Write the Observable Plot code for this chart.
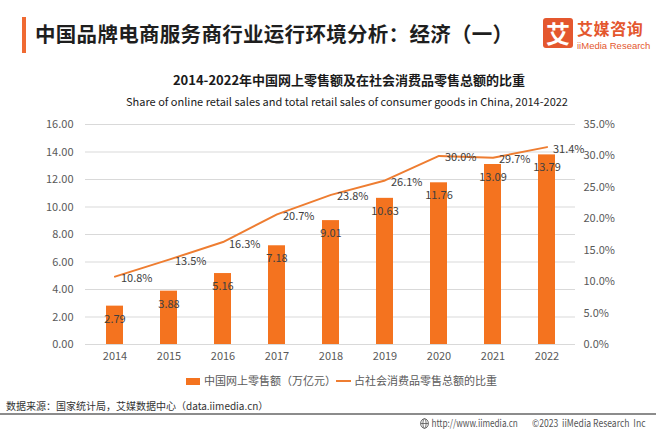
<!DOCTYPE html>
<html>
<head>
<meta charset="utf-8">
<script src="https://cdn.jsdelivr.net/npm/d3@7"></script>
<script src="https://cdn.jsdelivr.net/npm/@observablehq/plot@0.6"></script>
<style>
  html, body { margin: 0; padding: 0; background: #fff; }
  body { width: 660px; height: 429px; position: relative; overflow: hidden; font-family: "Noto Sans CJK SC", "Noto Sans", sans-serif; }
  .abs { position: absolute; white-space: nowrap; }
  #bar { left: 22px; top: 17px; width: 4px; height: 36px; background: #f06a32; }
  #title { left: 35px; top: 20px; font-size: 20.5px; font-weight: 700; color: #1e1e1e; line-height: 26px; letter-spacing: 0.3px; }
  #logoSq { left: 543px; top: 18px; width: 30px; height: 30px; background: #e4572e; border-radius: 3px; color: #fff; font-size: 24px; font-weight: 700; line-height: 30px; text-align: center; }
  #logoCn { left: 577px; top: 20px; font-size: 16px; font-weight: 700; color: #e4572e; line-height: 16px; height: 16px; letter-spacing: 0.6px; }
  #logoEn { left: 577px; top: 41px; font-family: "Liberation Sans Narrow", "Liberation Sans", sans-serif; font-size: 9.5px; color: #e4572e; line-height: 9px; height: 9px; }
  #ctitle { left: 0; width: 698px; top: 71px; text-align: center; font-size: 13px; font-weight: 700; color: #1a1a1a; line-height: 18px; }
  #csub { left: 0; width: 694px; top: 92px; text-align: center; font-size: 11px; color: #1a1a1a; line-height: 18px; }
  #plot { left: 0; top: 115px; }
  .leg { top: 373px; font-size: 11px; color: #595959; line-height: 14px; }
  #src { left: 6px; top: 399px; font-size: 10px; color: #333; line-height: 14px; }
  #rule { left: 0; top: 413px; width: 656px; height: 2px; background: #8c8c8c; }
  #url { left: 420px; top: 416px; font-size: 10px; color: #555; line-height: 13px; transform: scaleX(0.82); transform-origin: left top; }
  #copy { left: 532px; top: 416px; font-size: 10px; color: #555; line-height: 13px; transform: scaleX(0.86); transform-origin: left top; }
</style>
</head>
<body>
<div id="bar" class="abs"></div>
<div id="title" class="abs">中国品牌电商服务商行业运行环境分析：经济（一）</div>
<div id="logoSq" class="abs">艾</div>
<div id="logoCn" class="abs">艾媒咨询</div>
<div id="logoEn" class="abs">iiMedia Research</div>
<div id="ctitle" class="abs">2014-2022年中国网上零售额及在社会消费品零售总额的比重</div>
<div id="csub" class="abs">Share of online retail sales and total retail sales of consumer goods in China, 2014-2022</div>
<div id="plot" class="abs"></div>
<div class="abs leg" style="left:186px;"><span style="display:inline-block;width:14px;height:7px;background:#f4731f;vertical-align:middle;margin-right:4px;position:relative;top:-1px;"></span>中国网上零售额（万亿元）</div>
<div class="abs leg" style="left:336px;"><span style="display:inline-block;width:15px;height:2px;background:#ee7d31;vertical-align:middle;margin-right:3px;position:relative;top:-1px;"></span>占社会消费品零售总额的比重</div>
<div id="src" class="abs">数据来源：国家统计局，艾媒数据中心（data.iimedia.cn）</div>
<div id="rule" class="abs"></div>
<div id="url" class="abs"><svg width="11" height="11" viewBox="0 0 10 10" style="vertical-align:-2px;margin-right:3px"><circle cx="5" cy="5" r="4.3" fill="none" stroke="#555" stroke-width="0.9"/><ellipse cx="5" cy="5" rx="1.8" ry="4.3" fill="none" stroke="#555" stroke-width="0.8"/><line x1="0.7" y1="5" x2="9.3" y2="5" stroke="#555" stroke-width="0.8"/></svg>http://www.iimedia.cn</div>
<div id="copy" class="abs">©2023 &nbsp;iiMedia Research &nbsp;Inc</div>
<script>
const years = ["2014","2015","2016","2017","2018","2019","2020","2021","2022"];
const sales = [2.79, 3.88, 5.16, 7.18, 9.01, 10.63, 11.76, 13.09, 13.79];
const share = [10.8, 13.5, 16.3, 20.7, 23.8, 26.1, 30.0, 29.7, 31.4];
const leftTicks = [0, 2, 4, 6, 8, 10, 12, 14, 16];
const rightTicks = [0, 5, 10, 15, 20, 25, 30, 35];

const leftMax = 16, rightMax = 35;
const toLeft = v => v * leftMax / rightMax;
const data = years.map((y, i) => ({year: y, sales: sales[i], share: share[i], shareY: toLeft(share[i])}));

const chart = Plot.plot({
  width: 660,
  height: 251,
  marginLeft: 85,
  marginRight: 85,
  marginTop: 9,
  marginBottom: 22,
  x: {domain: years, paddingInner: 0.69, paddingOuter: 0.345, label: null},
  y: {domain: [0, leftMax], label: null},
  style: {fontFamily: "'Noto Sans CJK SC', 'Noto Sans', sans-serif", fontSize: "11px", color: "#595959", background: "transparent"},
  marks: [
    Plot.ruleY(leftTicks, {stroke: "#d9d9d9", strokeWidth: 1}),
    Plot.axisY({ticks: leftTicks, tickFormat: d => d.toFixed(2), tickSize: 0, tickPadding: 12, label: null}),
    Plot.axisY({anchor: "right", ticks: rightTicks.map(toLeft), tickFormat: d => (d * rightMax / leftMax).toFixed(1) + "%", tickSize: 0, tickPadding: 8, label: null}),
    Plot.axisX({tickSize: 0, tickPadding: 8, label: null}),
    Plot.barY(data, {x: "year", y: "sales", fill: "#f4731f"}),
    Plot.text(data, {x: "year", y: "sales", text: d => d.sales.toFixed(2), dy: 13, fill: "#404040", fontSize: 11}),
    Plot.line(data, {x: "year", y: "shareY", stroke: "#ee7d31", strokeWidth: 2}),
    Plot.text(data, {x: "year", y: "shareY", text: d => d.share.toFixed(1) + "%", textAnchor: "start", dx: 6, dy: 2, fill: "#404040", fontSize: 11})
  ]
});
document.getElementById("plot").appendChild(chart);
</script>
</body>
</html>
